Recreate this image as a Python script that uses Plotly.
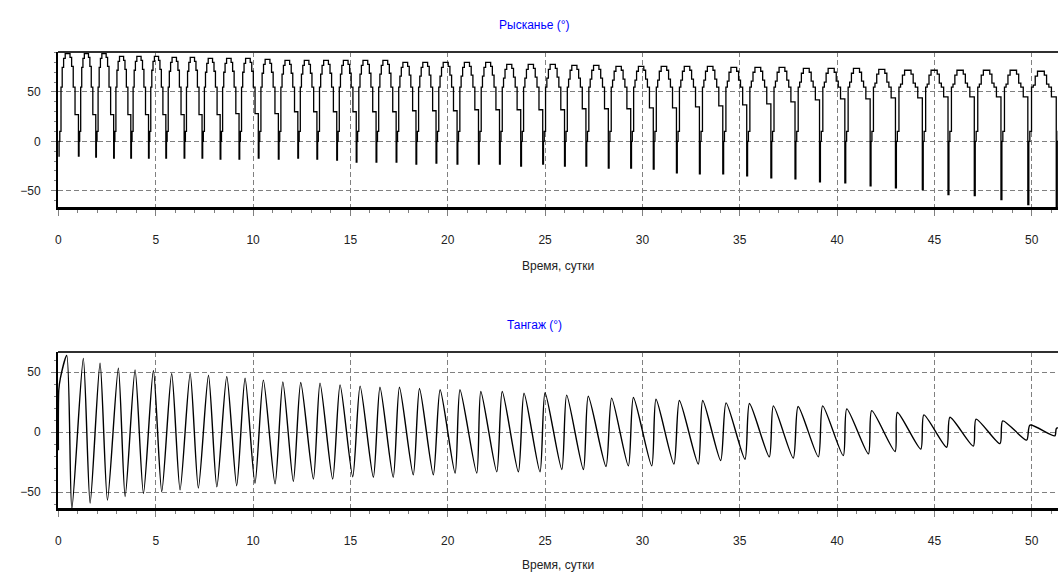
import plotly.graph_objects as go

# ---------------- data ----------------
# Yaw (Рысканье): time of each dip (days), dip value, plateau value, knee value before the dip
yaw_trough_t = [0.00, 1.03, 1.92, 2.84, 3.72, 4.63, 5.52, 6.46, 7.38, 8.31, 9.28, 10.27,
                11.30, 12.30, 13.28, 14.30, 15.30, 16.32, 17.35, 18.37, 19.40, 20.48, 21.58, 22.66,
                23.75, 24.88, 26.00, 27.10, 28.25, 29.40, 30.56, 31.75, 32.93, 34.13, 35.36, 36.60,
                37.84, 39.10, 40.40, 41.70, 43.00, 44.38, 45.70, 47.05, 48.42, 49.80, 51.26]
yaw_trough_v = [-15, -15, -16, -17, -17, -17, -17, -17, -17, -18, -18, -17,
                -18, -17, -18, -19, -21, -21, -21, -23, -22, -23, -23, -23,
                -25, -23, -25, -25, -27, -27, -28, -32, -33, -33, -35, -37,
                -38, -41, -42, -45, -47, -49, -54, -55, -59, -64, -66]
yaw_peak_v = [89, 89, 89, 86, 86, 86, 85, 85, 84, 84, 84, 83,
              82, 82, 82, 82, 82, 82, 80, 80, 80, 80, 80, 78,
              78, 78, 77, 77, 76, 76, 76, 76, 76, 75, 75, 75,
              74, 74, 74, 73, 72, 72, 72, 72, 72, 71, 71]
yaw_knee_v = [27, 27, 27, 27, 27, 27, 27, 27, 27, 28, 28, 28,
              30, 30, 30, 30, 30, 30, 31, 31, 31, 32, 32, 32,
              32, 32, 33, 33, 33, 34, 34, 35, 36, 37, 38, 40,
              42, 43, 43, 44, 44, 45, 45, 45, 45, 45, 45]

# Pitch (Тангаж): peaks and troughs (days, degrees)
pitch_peak_t = [0.43, 1.28, 2.14, 3.08, 3.94, 4.88, 5.82, 6.77, 7.71, 8.65, 9.59,
                10.53, 11.53, 12.45, 13.44, 14.47, 15.50, 16.52, 17.52, 18.55, 19.61, 20.63, 21.70, 22.80,
                23.92, 25.00, 26.11, 27.22, 28.42, 29.54, 30.70, 31.90, 33.10, 34.30, 35.50, 36.73,
                38.00, 39.26, 40.50, 41.78, 43.10, 44.46, 45.80, 47.14, 48.51, 49.91, 51.28]
pitch_peak_v = [64, 61.5, 57.5, 53.5, 52, 51.5, 49, 49, 47.5, 46.5, 45,
                43.5, 42, 41.5, 41, 39.5, 38.5, 37.5, 37.5, 36.5, 35.5, 35.5, 34, 34,
                32.5, 33, 31, 30, 28.5, 29, 27.5, 26.5, 26.5, 24.5, 24, 22,
                21.5, 22, 19.5, 18, 16.5, 14.5, 12.5, 11, 9.5, 6, 3.5]
pitch_trough_t = [0.69, 1.63, 2.52, 3.43, 4.37, 5.31, 6.25, 7.19, 8.14, 9.16, 10.10,
                  11.13, 12.07, 13.10, 14.09, 15.12, 16.18, 17.20, 18.23, 19.26, 20.38, 21.49, 22.52,
                  23.63, 24.74, 25.86, 26.97, 28.13, 29.28, 30.48, 31.62, 32.87, 34.02, 35.27, 36.52,
                  37.75, 39.04, 40.32, 41.61, 42.98, 44.30, 45.63, 47.00, 48.37, 49.74, 51.19]
pitch_trough_v = [-64, -59, -56.5, -53.5, -51, -49.5, -48, -46.5, -45.5, -44.5, -42.5,
                  -43, -41, -39, -39, -37, -37.5, -37.5, -35.5, -35.5, -34, -34, -33,
                  -33, -33, -31, -31, -28.5, -28, -28, -26.5, -26.5, -23.5, -22.5, -20.5,
                  -21.5, -20.5, -19.5, -18, -16, -14, -12.5, -11.5, -9.5, -6.5, -3]
pitch_start_t = [0.00, 0.02, 0.10]
pitch_start_v = [-15, 35, 45]
pitch_end_t = [52.5]
pitch_end_v = [-3]

x_ticks = [0, 5, 10, 15, 20, 25, 30, 35, 40, 45, 50]
title_yaw = "Рысканье (°)"
title_pitch = "Тангаж (°)"
x_title = "Время, сутки"

# shape of one yaw cycle (fraction of cycle, level kind, offset)
YAW_PROFILE = [(0.000, 'Q', 0), (0.035, 'A', 0), (0.07, 'A', 10), (0.13, 'A', 55),
               (0.19, 'P', -14), (0.26, 'P', -5), (0.34, 'P', 0), (0.58, 'P', -4),
               (0.66, 'P', -13), (0.74, 'A', 55), (0.83, 'K', 0)]

yaw_t, yaw_v = [], []
n = len(yaw_trough_t)
for i in range(n):
    T = yaw_trough_t[i]
    D = (yaw_trough_t[i + 1] - T) if i + 1 < n else (T - yaw_trough_t[i - 1])
    Q, P, K = yaw_trough_v[i], yaw_peak_v[i], yaw_knee_v[i]
    for f, kind, off in YAW_PROFILE:
        if kind == 'Q':
            v = Q
        elif kind == 'P':
            v = P + off
        elif kind == 'K':
            v = K + off
        else:
            v = off
        yaw_t.append(T + f * D)
        yaw_v.append(v)

pitch_t = list(pitch_start_t)
pitch_v = list(pitch_start_v)
for i in range(len(pitch_peak_t)):
    pitch_t.append(pitch_peak_t[i]); pitch_v.append(pitch_peak_v[i])
    if i < len(pitch_trough_t):
        pitch_t.append(pitch_trough_t[i]); pitch_v.append(pitch_trough_v[i])
pitch_t += pitch_end_t
pitch_v += pitch_end_v

W, H = 1058, 578
def py(p):  # screen y -> paper y
    return 1 - p / H
def px(p):  # screen x -> paper x (plot area 58..1058)
    return (p - 58) / 1000

fig = go.Figure()
fig.add_trace(go.Scatter(x=yaw_t, y=yaw_v, mode='lines', line=dict(color='black', width=1.3, shape='hv'),
                         xaxis='x', yaxis='y', showlegend=False, hoverinfo='skip'))
fig.add_trace(go.Scatter(x=pitch_t, y=pitch_v, mode='lines',
                         line=dict(color='black', width=1.4, shape='spline', smoothing=0.7),
                         xaxis='x2', yaxis='y2', showlegend=False, hoverinfo='skip'))

grid = '#808080'
tickfont = dict(family='Liberation Sans, Arial, sans-serif', size=12, color='#222222')
xcommon = dict(range=[-0.02, 51.35], tickvals=x_ticks, ticktext=[str(v) for v in x_ticks],
               showline=True, linecolor='black', linewidth=3, ticks='outside', ticklen=6,
               tickcolor=grid, tickwidth=1, showgrid=True, gridcolor=grid, gridwidth=1,
               griddash='5px,3px', zeroline=False, tickfont=tickfont, ticklabelstandoff=14,
               minor=dict(dtick=1, tick0=0, ticks='outside', ticklen=3, tickcolor=grid, showgrid=False),
               fixedrange=True)
ycommon = dict(tickvals=[-50, 0, 50], showline=True, linecolor='black', linewidth=2,
               ticks='outside', ticklen=5, tickcolor=grid, tickwidth=1, showgrid=True,
               gridcolor=grid, gridwidth=1, griddash='5px,3px', zeroline=False,
               tickfont=tickfont, ticklabelstandoff=8,
               minor=dict(dtick=10, tick0=0, ticks='outside', ticklen=2, tickcolor=grid, showgrid=False),
               fixedrange=True)

fig.update_layout(
    width=W, height=H, margin=dict(l=58, r=0, t=0, b=0),
    paper_bgcolor='white', plot_bgcolor='white', showlegend=False,
    xaxis=dict(domain=[0, 1], anchor='y', **xcommon),
    yaxis=dict(domain=[py(207), py(52)], anchor='x', range=[-66.5, 90.5], **ycommon),
    xaxis2=dict(domain=[0, 1], anchor='y2', **xcommon),
    yaxis2=dict(domain=[py(508), py(352)], anchor='x2', range=[-63.1, 66.9], **ycommon),
)

# top frame lines
for xr, yr in (('x domain', 'y domain'), ('x2 domain', 'y2 domain')):
    fig.add_shape(type='line', xref=xr, yref=yr, x0=0, x1=1, y0=1, y1=1,
                  line=dict(color='#303030', width=2))

ann_font = dict(family='Liberation Sans, Arial, sans-serif', size=12, color='#0000FF')
lab_font = dict(family='Liberation Sans, Arial, sans-serif', size=12, color='#222222')
fig.add_annotation(text=title_yaw, x=px(534), y=py(25), xref='paper', yref='paper',
                   showarrow=False, font=ann_font, xanchor='center', yanchor='middle')
fig.add_annotation(text=title_pitch, x=px(534), y=py(325), xref='paper', yref='paper',
                   showarrow=False, font=ann_font, xanchor='center', yanchor='middle')
fig.add_annotation(text=x_title, x=px(558), y=py(266), xref='paper', yref='paper',
                   showarrow=False, font=lab_font, xanchor='center', yanchor='middle')
fig.add_annotation(text=x_title, x=px(558), y=py(565), xref='paper', yref='paper',
                   showarrow=False, font=lab_font, xanchor='center', yanchor='middle')

fig.write_html("out.html", config={'displayModeBar': False},
               post_script="document.body.style.margin='0';document.body.style.overflow='hidden';")
